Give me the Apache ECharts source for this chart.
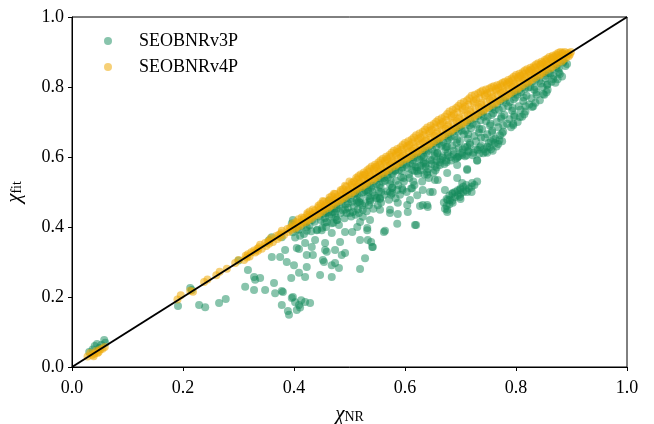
<!DOCTYPE html>
<html>
<head>
<meta charset="utf-8">
<script src="https://cdn.jsdelivr.net/npm/echarts@6/dist/echarts.min.js"></script>
<style>
html,body{margin:0;padding:0;background:#fff;}
#chart{width:654px;height:424px;}
</style>
</head>
<body>
<div id="chart"></div>
<script>
const seriesNames = ['SEOBNRv3P', 'SEOBNRv4P'];
const xTicks = [0, 0.2, 0.4, 0.6, 0.8, 1.0];
const yTicks = [0, 0.2, 0.4, 0.6, 0.8, 1.0];
const diagonal = [[0, 0], [1, 1]];

// SEOBNRv3P: [chi_NR, chi_fit]
const v3pLow = [
[0.031,0.043],[0.041,0.060],[0.058,0.077],[0.060,0.069],[0.049,0.054],[0.037,0.050],[0.053,0.063],[0.045,0.066]
];
const v3pScatter = [
[0.191,0.174],[0.229,0.177],[0.240,0.171],[0.265,0.183],[0.277,0.194],
[0.312,0.229],[0.328,0.220],[0.348,0.220],[0.364,0.240],[0.378,0.217],[0.366,0.211],
[0.391,0.149],[0.378,0.177],[0.396,0.197],[0.409,0.177],[0.413,0.191],[0.429,0.183],[0.405,0.163],[0.411,0.170],[0.398,0.200],[0.380,0.214],[0.389,0.160],[0.420,0.186],[0.402,0.185],
[0.317,0.277],[0.328,0.257],[0.339,0.254],[0.330,0.249],
[0.360,0.314],[0.375,0.314],[0.387,0.300],[0.400,0.291],[0.395,0.254],[0.409,0.269],[0.423,0.286],[0.420,0.257],[0.447,0.263],[0.468,0.257],[0.454,0.300],[0.468,0.291],[0.481,0.283],
[0.384,0.334],[0.409,0.337],[0.423,0.320],[0.420,0.354],[0.438,0.363],[0.456,0.354],[0.459,0.329],[0.474,0.334],[0.492,0.326],
[0.450,0.391],[0.468,0.383],[0.481,0.406],[0.492,0.386],[0.423,0.389],[0.400,0.406],[0.378,0.371],
[0.456,0.426],[0.474,0.440],[0.492,0.449],[0.468,0.411],
[0.519,0.280],[0.474,0.297],[0.452,0.306],[0.434,0.320],[0.486,0.320],[0.405,0.340],[0.432,0.343],[0.456,0.334],[0.483,0.357],
[0.533,0.363],[0.541,0.343],[0.519,0.363],[0.505,0.386],[0.532,0.397],[0.564,0.389],[0.586,0.409],[0.618,0.406],
[0.573,0.440],[0.605,0.443],[0.627,0.460],[0.640,0.463],[0.604,0.463],[0.587,0.469],[0.555,0.449],[0.524,0.429],[0.501,0.440],[0.477,0.420],[0.459,0.414],[0.441,0.391],[0.398,0.420],[0.470,0.443],
[0.514,0.469],[0.537,0.477],[0.555,0.483],[0.573,0.500],[0.596,0.506],[0.613,0.511],[0.632,0.506],[0.650,0.500],[0.672,0.506],[0.677,0.477],[0.676,0.449],[0.686,0.469],[0.699,0.486],[0.712,0.500],[0.721,0.526],[0.703,0.526],[0.686,0.497],[0.694,0.540],[0.676,0.554],[0.654,0.534],[0.640,0.557],[0.622,0.571],[0.604,0.569],[0.582,0.563],[0.568,0.549],[0.663,0.577],[0.694,0.577],[0.712,0.563],[0.703,0.606],[0.730,0.591],[0.741,0.611],[0.748,0.629],[0.712,0.629],[0.676,0.629],[0.658,0.611],[0.632,0.606],[0.614,0.591],[0.524,0.514],[0.510,0.497],
[0.528,0.311],[0.542,0.343],[0.539,0.357],[0.562,0.386],[0.620,0.406],[0.676,0.443],[0.681,0.477],[0.506,0.443],[0.524,0.449],[0.573,0.449],[0.587,0.437],[0.609,0.477],[0.645,0.500],[0.622,0.491],[0.577,0.497],[0.550,0.483],[0.519,0.469],[0.514,0.400],[0.532,0.391],[0.537,0.420],[0.519,0.414],[0.632,0.463],[0.641,0.457],
[0.216,0.220],[0.213,0.226],[0.300,0.304],[0.355,0.362],[0.360,0.371],[0.396,0.410],[0.463,0.475]
];
const v3pBlob = [
[0.670,0.470],[0.675,0.480],[0.680,0.490],[0.685,0.495],[0.690,0.500],[0.695,0.505],[0.700,0.510],[0.705,0.515],[0.710,0.520],[0.715,0.510],[0.700,0.495],[0.690,0.485],[0.685,0.475],[0.680,0.465],[0.695,0.490],[0.705,0.500],[0.710,0.505],[0.720,0.515],[0.725,0.520],[0.730,0.530],[0.720,0.500],[0.700,0.480],[0.675,0.460],[0.672,0.452]
];
const v3pUpper = [
[0.892,0.866],[0.879,0.837],[0.867,0.823],[0.856,0.806],[0.849,0.780],[0.829,0.743],[0.807,0.714],[0.795,0.691],[0.768,0.637],[0.759,0.649],[0.730,0.589],[0.712,0.566],[0.699,0.506],[0.659,0.534],[0.640,0.549],[0.586,0.506],[0.560,0.529],[0.542,0.500],[0.533,0.506],
[0.755,0.622],[0.765,0.630],[0.775,0.645],[0.745,0.615]
];
const v3pBand = [
[0.402,0.370],[0.398,0.385],[0.405,0.392],
[0.418,0.380],[0.423,0.400],[0.421,0.412],
[0.442,0.392],[0.437,0.415],[0.445,0.430],
[0.458,0.400],[0.463,0.430],[0.456,0.445],[0.466,0.452],
[0.478,0.420],[0.484,0.440],[0.476,0.460],[0.486,0.470],
[0.503,0.430],[0.497,0.455],[0.505,0.472],[0.499,0.490],
[0.517,0.440],[0.523,0.462],[0.519,0.482],[0.526,0.500],[0.521,0.512],
[0.543,0.452],[0.537,0.472],[0.545,0.490],[0.539,0.512],[0.546,0.532],
[0.557,0.470],[0.563,0.492],[0.556,0.512],[0.564,0.532],[0.560,0.550],
[0.583,0.482],[0.577,0.512],[0.584,0.532],[0.578,0.552],[0.585,0.572],
[0.603,0.500],[0.598,0.530],[0.607,0.550],[0.595,0.570],[0.604,0.592],
[0.617,0.520],[0.624,0.552],[0.619,0.572],[0.626,0.592],[0.621,0.610],
[0.643,0.540],[0.637,0.572],[0.645,0.592],[0.639,0.612],[0.646,0.632],
[0.657,0.570],[0.664,0.592],[0.659,0.612],[0.666,0.632],[0.661,0.650],
[0.683,0.590],[0.677,0.612],[0.685,0.632],[0.679,0.652],[0.686,0.672],
[0.697,0.602],[0.704,0.622],[0.699,0.645],[0.706,0.665],[0.701,0.690],
[0.723,0.612],[0.717,0.635],[0.725,0.660],[0.719,0.682],[0.726,0.710],
[0.737,0.632],[0.744,0.655],[0.739,0.680],[0.746,0.702],[0.741,0.730],
[0.763,0.652],[0.757,0.675],[0.765,0.700],[0.759,0.725],[0.766,0.750],
[0.777,0.672],[0.784,0.695],[0.779,0.720],[0.786,0.745],[0.781,0.770],
[0.803,0.700],[0.797,0.720],[0.805,0.745],[0.799,0.770],[0.806,0.790],
[0.817,0.730],[0.824,0.750],[0.819,0.775],[0.826,0.800],[0.821,0.812],
[0.843,0.762],[0.837,0.785],[0.845,0.810],[0.839,0.830],
[0.857,0.792],[0.864,0.815],[0.859,0.840],[0.866,0.852],
[0.883,0.830],[0.877,0.852],[0.885,0.870]
];
const v3pBandFill = [
[0.411,0.375],[0.409,0.392],[0.413,0.402],
[0.431,0.388],[0.428,0.405],[0.433,0.420],
[0.451,0.398],[0.448,0.420],[0.453,0.438],
[0.471,0.412],[0.468,0.435],[0.473,0.452],[0.469,0.462],
[0.491,0.425],[0.488,0.448],[0.493,0.465],[0.489,0.480],
[0.511,0.435],[0.508,0.458],[0.513,0.478],[0.509,0.495],[0.512,0.502],
[0.531,0.445],[0.528,0.468],[0.533,0.488],[0.529,0.505],[0.532,0.522],
[0.551,0.462],[0.548,0.482],[0.553,0.502],[0.549,0.522],[0.552,0.540],
[0.571,0.478],[0.568,0.502],[0.573,0.522],[0.569,0.542],[0.572,0.560],
[0.591,0.492],[0.588,0.520],[0.593,0.542],[0.589,0.562],[0.592,0.580],
[0.611,0.510],[0.608,0.540],[0.613,0.562],[0.609,0.582],[0.612,0.600],
[0.631,0.530],[0.628,0.562],[0.633,0.582],[0.629,0.602],[0.632,0.620],
[0.651,0.555],[0.648,0.580],[0.653,0.602],[0.649,0.622],[0.652,0.640],
[0.671,0.580],[0.668,0.602],[0.673,0.622],[0.669,0.642],[0.672,0.660],
[0.691,0.595],[0.688,0.618],[0.693,0.640],[0.689,0.660],[0.692,0.680],
[0.711,0.605],[0.708,0.628],[0.713,0.652],[0.709,0.675],[0.712,0.698],
[0.731,0.620],[0.728,0.645],[0.733,0.670],[0.729,0.692],[0.732,0.718],
[0.751,0.640],[0.748,0.665],[0.753,0.690],[0.749,0.715],[0.752,0.740],
[0.771,0.662],[0.768,0.685],[0.773,0.710],[0.769,0.735],[0.772,0.760],
[0.791,0.685],[0.788,0.708],[0.793,0.732],[0.789,0.758],[0.792,0.780],
[0.811,0.715],[0.808,0.735],[0.813,0.760],[0.809,0.785],[0.812,0.800],
[0.831,0.745],[0.828,0.768],[0.833,0.792],[0.829,0.815],
[0.851,0.778],[0.848,0.800],[0.853,0.825],[0.849,0.840],
[0.871,0.812],[0.868,0.832],[0.873,0.855],
[0.889,0.860],[0.886,0.875]
];
const v3pBandFill2 = [
[0.455,0.412],[0.457,0.440],[0.475,0.428],[0.477,0.452],
[0.495,0.440],[0.497,0.468],[0.494,0.482],[0.515,0.450],[0.517,0.472],[0.514,0.492],
[0.535,0.462],[0.537,0.482],[0.534,0.500],[0.536,0.520],[0.555,0.480],[0.557,0.500],[0.554,0.520],[0.556,0.540],
[0.575,0.492],[0.577,0.512],[0.574,0.532],[0.576,0.552],[0.595,0.510],[0.597,0.540],[0.594,0.560],[0.596,0.580],
[0.615,0.530],[0.617,0.560],[0.614,0.580],[0.616,0.600],[0.635,0.550],[0.637,0.580],[0.634,0.600],[0.636,0.620],
[0.655,0.562],[0.657,0.590],[0.654,0.610],[0.656,0.630],[0.658,0.645],
[0.675,0.585],[0.677,0.605],[0.674,0.628],[0.676,0.648],[0.678,0.665],
[0.695,0.600],[0.697,0.625],[0.694,0.650],[0.696,0.672],[0.698,0.685],
[0.715,0.615],[0.717,0.640],[0.714,0.665],[0.716,0.690],[0.718,0.705],
[0.735,0.628],[0.737,0.655],[0.734,0.680],[0.736,0.705],[0.738,0.722],
[0.755,0.645],[0.757,0.670],[0.754,0.695],[0.756,0.720],[0.758,0.742],
[0.775,0.668],[0.777,0.690],[0.774,0.715],[0.776,0.740],[0.778,0.762],
[0.795,0.695],[0.797,0.715],[0.794,0.740],[0.796,0.765],[0.798,0.785],
[0.815,0.722],[0.817,0.745],[0.814,0.770],[0.816,0.795],
[0.835,0.755],[0.837,0.778],[0.834,0.800],[0.836,0.822],
[0.855,0.785],[0.857,0.808],[0.854,0.832],
[0.875,0.822],[0.877,0.842],[0.874,0.862]
];
const v3pDense = [
[0.622,0.560],[0.628,0.575],[0.634,0.585],[0.642,0.565],[0.648,0.590],[0.654,0.575],[0.662,0.585],[0.668,0.598],[0.674,0.590],[0.682,0.600],[0.688,0.608],[0.694,0.598],
[0.702,0.612],[0.708,0.602],[0.714,0.618],[0.722,0.605],[0.728,0.622],[0.734,0.610],[0.742,0.622],[0.748,0.612],[0.752,0.628],[0.758,0.618],[0.762,0.640],[0.770,0.648],
[0.462,0.442],[0.482,0.462],[0.502,0.480],[0.522,0.498],[0.542,0.518],[0.562,0.540],[0.582,0.560],[0.602,0.578],[0.622,0.598],[0.642,0.618],[0.662,0.638],
[0.682,0.658],[0.702,0.676],[0.722,0.695],[0.742,0.715],[0.762,0.735],[0.782,0.755],[0.802,0.778],[0.822,0.798],[0.842,0.818],[0.862,0.838]
];

// SEOBNRv4P: [chi_NR, chi_fit]
const v4pLow = [
[0.028,0.030],[0.033,0.040],[0.036,0.034],[0.040,0.038],[0.044,0.046],[0.048,0.043],[0.051,0.050],[0.055,0.052],[0.059,0.057],[0.046,0.040],[0.039,0.031]
];
const v4pSparse = [
[0.190,0.193],[0.196,0.205],[0.213,0.218],[0.218,0.215],[0.238,0.243],[0.244,0.250],[0.260,0.262],[0.266,0.272],[0.279,0.281],[0.294,0.297],[0.300,0.306]
];
const v4pBand = [
[0.310,0.306],[0.313,0.318],[0.320,0.316],[0.323,0.328],[0.330,0.327],[0.334,0.338],[0.328,0.333],
[0.342,0.338],[0.339,0.349],[0.350,0.346],[0.353,0.358],[0.348,0.354],[0.362,0.357],[0.358,0.368],
[0.370,0.366],[0.373,0.378],[0.368,0.374],[0.382,0.377],[0.378,0.389],[0.390,0.386],[0.393,0.398],[0.388,0.394],
[0.402,0.396],[0.398,0.410],[0.404,0.414],[0.410,0.403],[0.413,0.414],[0.408,0.422],
[0.422,0.414],[0.418,0.426],[0.424,0.434],[0.430,0.423],[0.433,0.434],[0.428,0.444],
[0.442,0.434],[0.438,0.447],[0.444,0.456],[0.450,0.443],[0.453,0.455],[0.448,0.466],[0.452,0.474],
[0.462,0.454],[0.458,0.467],[0.464,0.478],[0.470,0.463],[0.473,0.476],[0.468,0.488],[0.472,0.495],
[0.482,0.474],[0.478,0.487],[0.484,0.500],[0.490,0.483],[0.493,0.496],[0.488,0.508],[0.492,0.518],
[0.502,0.494],[0.498,0.507],[0.504,0.520],[0.500,0.530],[0.510,0.503],[0.513,0.516],[0.508,0.530],[0.512,0.540],
[0.522,0.514],[0.518,0.528],[0.524,0.541],[0.520,0.550],[0.530,0.523],[0.533,0.537],[0.528,0.550],[0.532,0.562],
[0.542,0.534],[0.538,0.548],[0.544,0.562],[0.540,0.573],[0.550,0.543],[0.553,0.558],[0.548,0.572],[0.552,0.584],
[0.562,0.554],[0.558,0.569],[0.564,0.584],[0.560,0.595],[0.570,0.563],[0.573,0.578],[0.568,0.594],[0.572,0.606],
[0.582,0.574],[0.578,0.590],[0.584,0.605],[0.580,0.618],[0.590,0.583],[0.593,0.599],[0.588,0.615],[0.592,0.628],
[0.602,0.594],[0.598,0.610],[0.604,0.626],[0.600,0.640],[0.610,0.602],[0.613,0.618],[0.608,0.635],[0.612,0.650],
[0.622,0.613],[0.618,0.630],[0.624,0.646],[0.620,0.662],[0.630,0.622],[0.633,0.640],[0.628,0.656],[0.632,0.672],
[0.642,0.633],[0.638,0.651],[0.644,0.668],[0.640,0.684],[0.650,0.642],[0.653,0.660],[0.648,0.678],[0.652,0.694],
[0.662,0.653],[0.658,0.672],[0.664,0.690],[0.660,0.706],[0.670,0.662],[0.673,0.681],[0.668,0.700],[0.672,0.716],
[0.682,0.673],[0.678,0.692],[0.684,0.712],[0.680,0.730],[0.690,0.682],[0.693,0.702],[0.688,0.722],[0.692,0.740],
[0.702,0.693],[0.698,0.713],[0.704,0.734],[0.700,0.752],[0.710,0.702],[0.713,0.722],[0.708,0.744],[0.712,0.762],
[0.722,0.713],[0.718,0.734],[0.724,0.755],[0.720,0.775],[0.730,0.722],[0.733,0.743],[0.728,0.764],[0.732,0.782],
[0.742,0.733],[0.738,0.754],[0.744,0.774],[0.740,0.790],[0.750,0.742],[0.753,0.763],[0.748,0.782],[0.752,0.796],
[0.762,0.753],[0.758,0.773],[0.764,0.790],[0.760,0.802],[0.770,0.762],[0.773,0.782],[0.768,0.798],[0.772,0.808],
[0.782,0.773],[0.778,0.790],[0.784,0.806],[0.780,0.815],[0.790,0.782],[0.793,0.800],[0.788,0.814],[0.792,0.824],
[0.802,0.793],[0.798,0.810],[0.804,0.824],[0.800,0.834],[0.810,0.802],[0.813,0.819],[0.808,0.832],[0.812,0.842],
[0.822,0.813],[0.818,0.829],[0.824,0.842],[0.820,0.851],[0.830,0.822],[0.833,0.838],[0.828,0.850],[0.832,0.859],
[0.842,0.833],[0.838,0.848],[0.844,0.860],[0.840,0.868],[0.850,0.842],[0.853,0.857],[0.848,0.868],[0.852,0.877],
[0.862,0.853],[0.858,0.867],[0.864,0.878],[0.860,0.886],[0.870,0.862],[0.873,0.876],[0.868,0.886],[0.872,0.893],
[0.882,0.873],[0.878,0.886],[0.884,0.895],[0.880,0.900],[0.890,0.883],[0.893,0.893],[0.888,0.900],
[0.897,0.893],[0.899,0.900]
];
const v4pBandFill = [
[0.315,0.313],[0.317,0.322],[0.335,0.332],[0.337,0.342],[0.355,0.352],[0.357,0.362],[0.375,0.371],[0.377,0.382],[0.395,0.392],[0.397,0.403],
[0.405,0.400],[0.407,0.411],[0.415,0.410],[0.417,0.420],[0.414,0.427],[0.425,0.419],[0.427,0.430],[0.424,0.439],
[0.435,0.429],[0.437,0.440],[0.434,0.450],[0.445,0.439],[0.447,0.451],[0.444,0.461],[0.455,0.449],[0.457,0.461],[0.454,0.472],
[0.465,0.459],[0.467,0.471],[0.464,0.484],[0.475,0.469],[0.477,0.482],[0.474,0.494],[0.485,0.479],[0.487,0.492],[0.484,0.505],
[0.495,0.489],[0.497,0.502],[0.494,0.515],[0.505,0.499],[0.507,0.513],[0.504,0.526],
[0.515,0.509],[0.517,0.523],[0.514,0.536],[0.516,0.545],[0.525,0.519],[0.527,0.533],[0.524,0.547],[0.526,0.556],
[0.535,0.529],[0.537,0.543],[0.534,0.557],[0.536,0.567],[0.545,0.539],[0.547,0.553],[0.544,0.567],[0.546,0.578],
[0.555,0.549],[0.557,0.564],[0.554,0.578],[0.556,0.590],[0.565,0.559],[0.567,0.574],[0.564,0.589],[0.566,0.601],
[0.575,0.569],[0.577,0.585],[0.574,0.600],[0.576,0.612],[0.585,0.579],[0.587,0.595],[0.584,0.611],[0.586,0.623],
[0.595,0.589],[0.597,0.605],[0.594,0.621],[0.596,0.634],[0.605,0.598],[0.607,0.615],[0.604,0.631],[0.606,0.645],
[0.615,0.608],[0.617,0.625],[0.614,0.642],[0.616,0.656],[0.625,0.618],[0.627,0.636],[0.624,0.652],[0.626,0.667],
[0.635,0.628],[0.637,0.646],[0.634,0.663],[0.636,0.678],[0.645,0.638],[0.647,0.656],[0.644,0.674],[0.646,0.689],
[0.655,0.648],[0.657,0.667],[0.654,0.685],[0.656,0.700],[0.665,0.658],[0.667,0.677],[0.664,0.695],[0.666,0.711],
[0.675,0.668],[0.677,0.687],[0.674,0.706],[0.676,0.723],[0.685,0.678],[0.687,0.698],[0.684,0.717],[0.686,0.735],
[0.695,0.688],[0.697,0.708],[0.694,0.728],[0.696,0.746],[0.705,0.698],[0.707,0.718],[0.704,0.739],[0.706,0.757],
[0.715,0.708],[0.717,0.729],[0.714,0.750],[0.716,0.768],[0.725,0.718],[0.727,0.739],[0.724,0.760],[0.726,0.778],
[0.735,0.728],[0.737,0.749],[0.734,0.769],[0.736,0.786],[0.745,0.738],[0.747,0.758],[0.744,0.778],[0.746,0.793],
[0.755,0.748],[0.757,0.768],[0.754,0.786],[0.756,0.799],[0.765,0.758],[0.767,0.778],[0.764,0.794],[0.766,0.805],
[0.775,0.768],[0.777,0.786],[0.774,0.802],[0.776,0.812],[0.785,0.778],[0.787,0.795],[0.784,0.810],[0.786,0.820],
[0.795,0.788],[0.797,0.805],[0.794,0.819],[0.796,0.829],[0.805,0.798],[0.807,0.814],[0.804,0.828],[0.806,0.838],
[0.815,0.808],[0.817,0.824],[0.814,0.837],[0.816,0.847],[0.825,0.818],[0.827,0.833],[0.824,0.846],[0.826,0.855],
[0.835,0.828],[0.837,0.843],[0.834,0.855],[0.836,0.864],[0.845,0.838],[0.847,0.852],[0.844,0.864],[0.846,0.872],
[0.855,0.848],[0.857,0.862],[0.854,0.873],[0.856,0.881],[0.865,0.858],[0.867,0.871],[0.864,0.882],[0.866,0.889],
[0.875,0.868],[0.877,0.881],[0.874,0.890],[0.876,0.897],[0.885,0.878],[0.887,0.890],[0.884,0.898],
[0.895,0.888],[0.894,0.897]
];

const v3pData = [].concat(v3pLow, v3pScatter, v3pBlob, v3pUpper, v3pBand, v3pBandFill, v3pBandFill2, v3pDense);
const v4pData = [].concat(v4pLow, v4pSparse, v4pBand, v4pBandFill);

const FONT = 'Liberation Serif';
const chart = echarts.init(document.getElementById('chart'), null, {renderer: 'canvas'});

function axisCommon() {
  return {
    type: 'value', min: 0, max: 1, interval: 0.2,
    axisLine: {show: true, lineStyle: {color: '#000', width: 1}},
    axisTick: {show: true, inside: false, length: 4, lineStyle: {color: '#000', width: 1}},
    splitLine: {show: false},
    axisLabel: {color: '#000', fontFamily: FONT, fontSize: 18, formatter: v => v.toFixed(1)}
  };
}

const xAxis = Object.assign(axisCommon(), {
  name: '{a|χ}{b|NR}', nameLocation: 'middle', nameGap: 37,
  nameTextStyle: {rich: {
    a: {fontFamily: FONT, fontStyle: 'italic', fontSize: 21, color: '#000'},
    b: {fontFamily: FONT, fontSize: 14, color: '#000', padding: [6, 0, 0, 0]}
  }}
});
xAxis.axisLabel.margin = 12;
const yAxis = Object.assign(axisCommon(), {
  name: '{a|χ}{b|fit}', nameLocation: 'middle', nameGap: 47,
  nameTextStyle: {rich: {
    a: {fontFamily: FONT, fontStyle: 'italic', fontSize: 21, color: '#000'},
    b: {fontFamily: FONT, fontSize: 14, color: '#000', padding: [6, 0, 0, 0]}
  }}
});
yAxis.axisLabel.margin = 8;

chart.setOption({
  animation: false,
  backgroundColor: '#fff',
  grid: {left: 72, right: 27, top: 17, bottom: 57, outerBoundsMode: 'none', containLabel: false,
         show: true, borderColor: '#000', borderWidth: 1, backgroundColor: 'transparent'},
  legend: {
    data: seriesNames, orient: 'vertical', left: 99, top: 27, itemGap: 8,
    icon: 'circle', itemWidth: 8, itemHeight: 8,
    textStyle: {fontFamily: FONT, fontSize: 18, color: '#000', padding: [0, 0, 0, 22]}
  },
  xAxis: xAxis,
  yAxis: yAxis,
  series: [
    {name: seriesNames[0], type: 'scatter', data: v3pData, symbolSize: 8,
     itemStyle: {color: '#12895a', opacity: 0.5}, z: 2},
    {name: seriesNames[1], type: 'scatter', data: v4pData, symbolSize: 8,
     itemStyle: {color: '#eeaa08', opacity: 0.55}, z: 3},
    {name: 'diag', type: 'line', data: diagonal, symbol: 'none', silent: true,
     lineStyle: {color: '#000', width: 2}, z: 5}
  ]
});
</script>
</body>
</html>
